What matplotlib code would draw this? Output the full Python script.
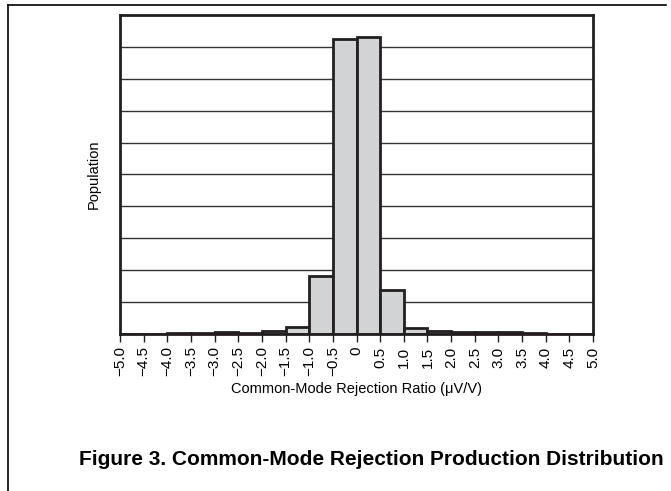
import numpy as np
import matplotlib
matplotlib.use('Agg')
import matplotlib.pyplot as plt
from matplotlib.lines import Line2D

plt.rcParams['font.family'] = ['Liberation Sans', 'DejaVu Sans']

# bin edges and populations
bin_left = [-5.0, -4.5, -4.0, -3.5, -3.0, -2.5, -2.0, -1.5, -1.0, -0.5,
            0.0, 0.5, 1.0, 1.5, 2.0, 2.5, 3.0, 3.5, 4.0, 4.5]
population = [0.0, 0.0, 0.03, 0.04, 0.06, 0.04, 0.10, 0.22, 1.82, 9.25,
              9.31, 1.38, 0.19, 0.09, 0.05, 0.05, 0.05, 0.04, 0.0, 0.0]
tick_vals = [-5.0, -4.5, -4.0, -3.5, -3.0, -2.5, -2.0, -1.5, -1.0, -0.5,
             0.0, 0.5, 1.0, 1.5, 2.0, 2.5, 3.0, 3.5, 4.0, 4.5, 5.0]
tick_text = ['\u22125.0', '\u22124.5', '\u22124.0', '\u22123.5', '\u22123.0',
             '\u22122.5', '\u22122.0', '\u22121.5', '\u22121.0', '\u22120.5',
             '0', '0.5', '1.0', '1.5', '2.0', '2.5', '3.0', '3.5', '4.0', '4.5', '5.0']

fig = plt.figure(figsize=(6.71, 4.91), dpi=100)
ax = fig.add_axes([0.1788, 0.3198, 0.7050, 0.6497])

# grid first so the bars sit on top
for g in range(1, 10):
    ax.axhline(g, color='#333333', lw=1.0, zorder=1)

ax.bar(bin_left, population, width=0.5, align='edge', color='#d1d3d4',
       edgecolor='#231f20', linewidth=2.0, zorder=2)

ax.set_xlim(-5, 5)
ax.set_ylim(0, 10)
ax.set_yticks([])
ax.set_xticks(tick_vals)
ax.set_xticklabels(tick_text, rotation=90, fontsize=11)
ax.tick_params(axis='x', direction='out', length=6, width=1.0, color='#231f20', pad=3)
for s in ax.spines.values():
    s.set_linewidth(2.0)
    s.set_color('#231f20')
    s.set_zorder(3)

ax.set_ylabel('Population', fontsize=10.5, labelpad=14)
ax.set_xlabel('Common-Mode Rejection Ratio (\u03bcV/V)', fontsize=10.5, labelpad=4)

fig.text(0.553, 0.065, 'Figure 3. Common-Mode Rejection Production Distribution',
         ha='center', va='center', fontsize=15, fontweight='bold')

# page frame lines
fig.add_artist(Line2D([8/671, 8/671], [0, 1 - 5/491], color='black', lw=1.2))
fig.add_artist(Line2D([8/671, 666/671], [1 - 5/491, 1 - 5/491], color='black', lw=1.2))

fig.savefig('out.png', dpi=100)
